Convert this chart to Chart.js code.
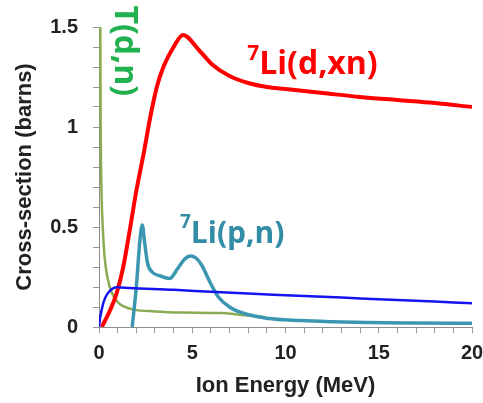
<!DOCTYPE html>
<html>
<head>
<meta charset="utf-8">
<script src="https://cdn.jsdelivr.net/npm/chart.js@4.4.0/dist/chart.umd.min.js"></script>
<style>
	html, body { margin: 0; padding: 0; background: #fff; overflow: hidden; }
	.chart { width: 495px; height: 403px; }
</style>
</head>
<body>
<div class="chart"><canvas id="xs"></canvas></div>
<script>
// |------------|
// |   Données  |
// |------------|

// 7Li(d,xn)
const dxn_energy = [0.15, 0.6, 0.95, 1.3, 1.66, 2.0, 2.4, 2.75, 3.1, 3.45, 4.0, 4.5, 5.4, 6.1, 7.0, 8.0, 9.0, 10, 12, 14, 16, 18, 20]
const dxn_sigma  = [0, 0.085, 0.17, 0.30, 0.49, 0.68, 0.87, 1.05, 1.20, 1.30, 1.40, 1.46, 1.38, 1.31, 1.255, 1.22, 1.20, 1.19, 1.17, 1.15, 1.135, 1.12, 1.10]

// 7Li(p,n)
const pn_energy = [1.78, 2.0, 2.2, 2.32, 2.45, 2.6, 2.85, 3.3, 3.8, 4.2, 4.6, 4.9, 5.2, 5.5, 6.0, 6.4, 7.0, 7.7, 9.0, 10.8, 12.5, 14.4, 17, 20]
const pn_sigma  = [0, 0.2, 0.44, 0.51, 0.42, 0.32, 0.275, 0.255, 0.243, 0.29, 0.34, 0.355, 0.345, 0.31, 0.215, 0.15, 0.1, 0.07, 0.044, 0.032, 0.026, 0.022, 0.02, 0.019]

// T(d,n)
const tdn_energy = [0.07, 0.09, 0.13, 0.2, 0.3, 0.45, 0.65, 0.95, 1.3, 1.85, 3.0, 4.5, 6.0, 6.6, 7.3, 8.0, 8.8]
const tdn_sigma  = [1.5, 1.0, 0.7, 0.5, 0.35, 0.25, 0.18, 0.13, 0.104, 0.087, 0.078, 0.072, 0.07, 0.07, 0.064, 0.057, 0.05]

// courbe bleue (sans étiquette)
const blue_energy = [0, 0.05, 0.11, 0.23, 0.41, 0.68, 0.95, 1.66, 4, 6, 8, 10, 12, 14, 16, 18, 20]
const blue_sigma  = [0, 0.04, 0.07, 0.12, 0.16, 0.189, 0.199, 0.195, 0.186, 0.176, 0.167, 0.159, 0.151, 0.143, 0.135, 0.127, 0.119]

// axes
const x_labels = [0, 5, 10, 15, 20]
const y_labels = [0, 0.5, 1, 1.5]

// étiquettes des courbes (position en unités des axes)
const curve_labels = [
	{ sup: '7', text: 'Li(d,xn)', x: 7.95, y: 1.263, color: '#ff0000', size: 32, sup_size: 21, sup_rise: 14 },
	{ sup: '7', text: 'Li(p,n)', x: 4.34, y: 0.42, color: '#318ca6', size: 30, sup_size: 19, sup_rise: 15 },
]
const tdn_label = { text: 'T(d,n)', x: 0.86, y: 1.608, color: '#21b14f', size: 32 }

// |-----------|
// |   Chart   |
// |-----------|

function to_points(xs, ys) {
	return xs.map((x, i) => ({ x: x, y: ys[i] }))
}

function make_dataset(label, xs, ys, color, width, order) {
	return {
		label: label,
		data: to_points(xs, ys),
		borderColor: color,
		backgroundColor: color,
		borderWidth: width,
		pointRadius: 0,
		fill: false,
		cubicInterpolationMode: 'monotone',
		order: order
	}
}

const label_font = '"Open Sans", "DejaVu Sans", sans-serif'

// Dessin des noms de réactions sur le graphique
const curve_label_plugin = {
	id: 'curve_labels',
	afterDatasetsDraw(chart) {
		const ctx = chart.ctx
		const xs = chart.scales.x
		const ys = chart.scales.y
		ctx.save()
		ctx.textBaseline = 'alphabetic'
		ctx.textAlign = 'left'
		for (const l of curve_labels) {
			const px = xs.getPixelForValue(l.x)
			const py = ys.getPixelForValue(l.y)
			ctx.fillStyle = l.color
			ctx.font = `700 ${l.sup_size}px ${label_font}`
			ctx.fillText(l.sup, px, py - l.sup_rise)
			const w = ctx.measureText(l.sup).width
			ctx.font = `700 ${l.size}px ${label_font}`
			ctx.fillText(l.text, px + w, py)
		}
		// T(d,n) écrit verticalement
		ctx.translate(xs.getPixelForValue(tdn_label.x), ys.getPixelForValue(tdn_label.y))
		ctx.rotate(Math.PI / 2)
		ctx.fillStyle = tdn_label.color
		ctx.font = `700 ${tdn_label.size}px ${label_font}`
		ctx.fillText(tdn_label.text, 0, 0)
		ctx.restore()
	}
}

const axis_font = { family: '"Liberation Sans", Arial, sans-serif', size: 20, weight: 700 }
const title_font = { family: '"Liberation Sans", Arial, sans-serif', size: 22, weight: 700 }

const config = {
	type: 'line',
	data: {
		datasets: [
			make_dataset('blue', blue_energy, blue_sigma, '#1414f0', 2.5, 0),
			make_dataset('7Li(p,n)', pn_energy, pn_sigma, '#3b97b1', 3.5, 1),
			make_dataset('7Li(d,xn)', dxn_energy, dxn_sigma, '#ff0000', 4, 2),
			make_dataset('T(d,n)', tdn_energy, tdn_sigma, '#8aab52', 2.5, 3),
		]
	},
	options: {
		responsive: true,
		maintainAspectRatio: false,
		animation: false,
		layout: { padding: { top: 27, right: 23, left: 0, bottom: 0 } },
		plugins: {
			legend: { display: false },
			tooltip: { enabled: false }
		},
		scales: {
			x: {
				type: 'linear',
				min: 0,
				max: 20,
				afterFit: (s) => { s.height = 76 },
				ticks: {
					stepSize: 1,
					autoSkip: false,
					maxRotation: 0,
					padding: 8,
					color: '#222',
					font: axis_font,
					callback: (v) => x_labels.includes(v) ? String(v) : ''
				},
				grid: { drawOnChartArea: false, drawTicks: true, tickLength: 6, color: '#999' },
				border: { display: true, color: '#8c8c8c', width: 1 },
				title: {
					display: true,
					text: 'Ion Energy (MeV)',
					color: '#222',
					font: title_font,
					padding: { top: 0, bottom: 4 }
				}
			},
			y: {
				min: 0,
				max: 1.5,
				afterFit: (s) => { s.width = 99 },
				ticks: {
					stepSize: 0.1,
					autoSkip: false,
					padding: 15,
					color: '#222',
					font: axis_font,
					callback: (v) => {
						const hit = y_labels.find(l => Math.abs(l - v) < 1e-6)
						return hit === undefined ? '' : String(hit)
					}
				},
				grid: { drawOnChartArea: false, drawTicks: true, tickLength: 6, color: '#999' },
				border: { display: true, color: '#8c8c8c', width: 1 },
				title: {
					display: true,
					text: 'Cross-section (barns)',
					color: '#222',
					font: title_font,
					padding: { top: 12, bottom: 0 }
				}
			}
		}
	},
	plugins: [curve_label_plugin]
}

new Chart(document.getElementById('xs'), config)
</script>
</body>
</html>
